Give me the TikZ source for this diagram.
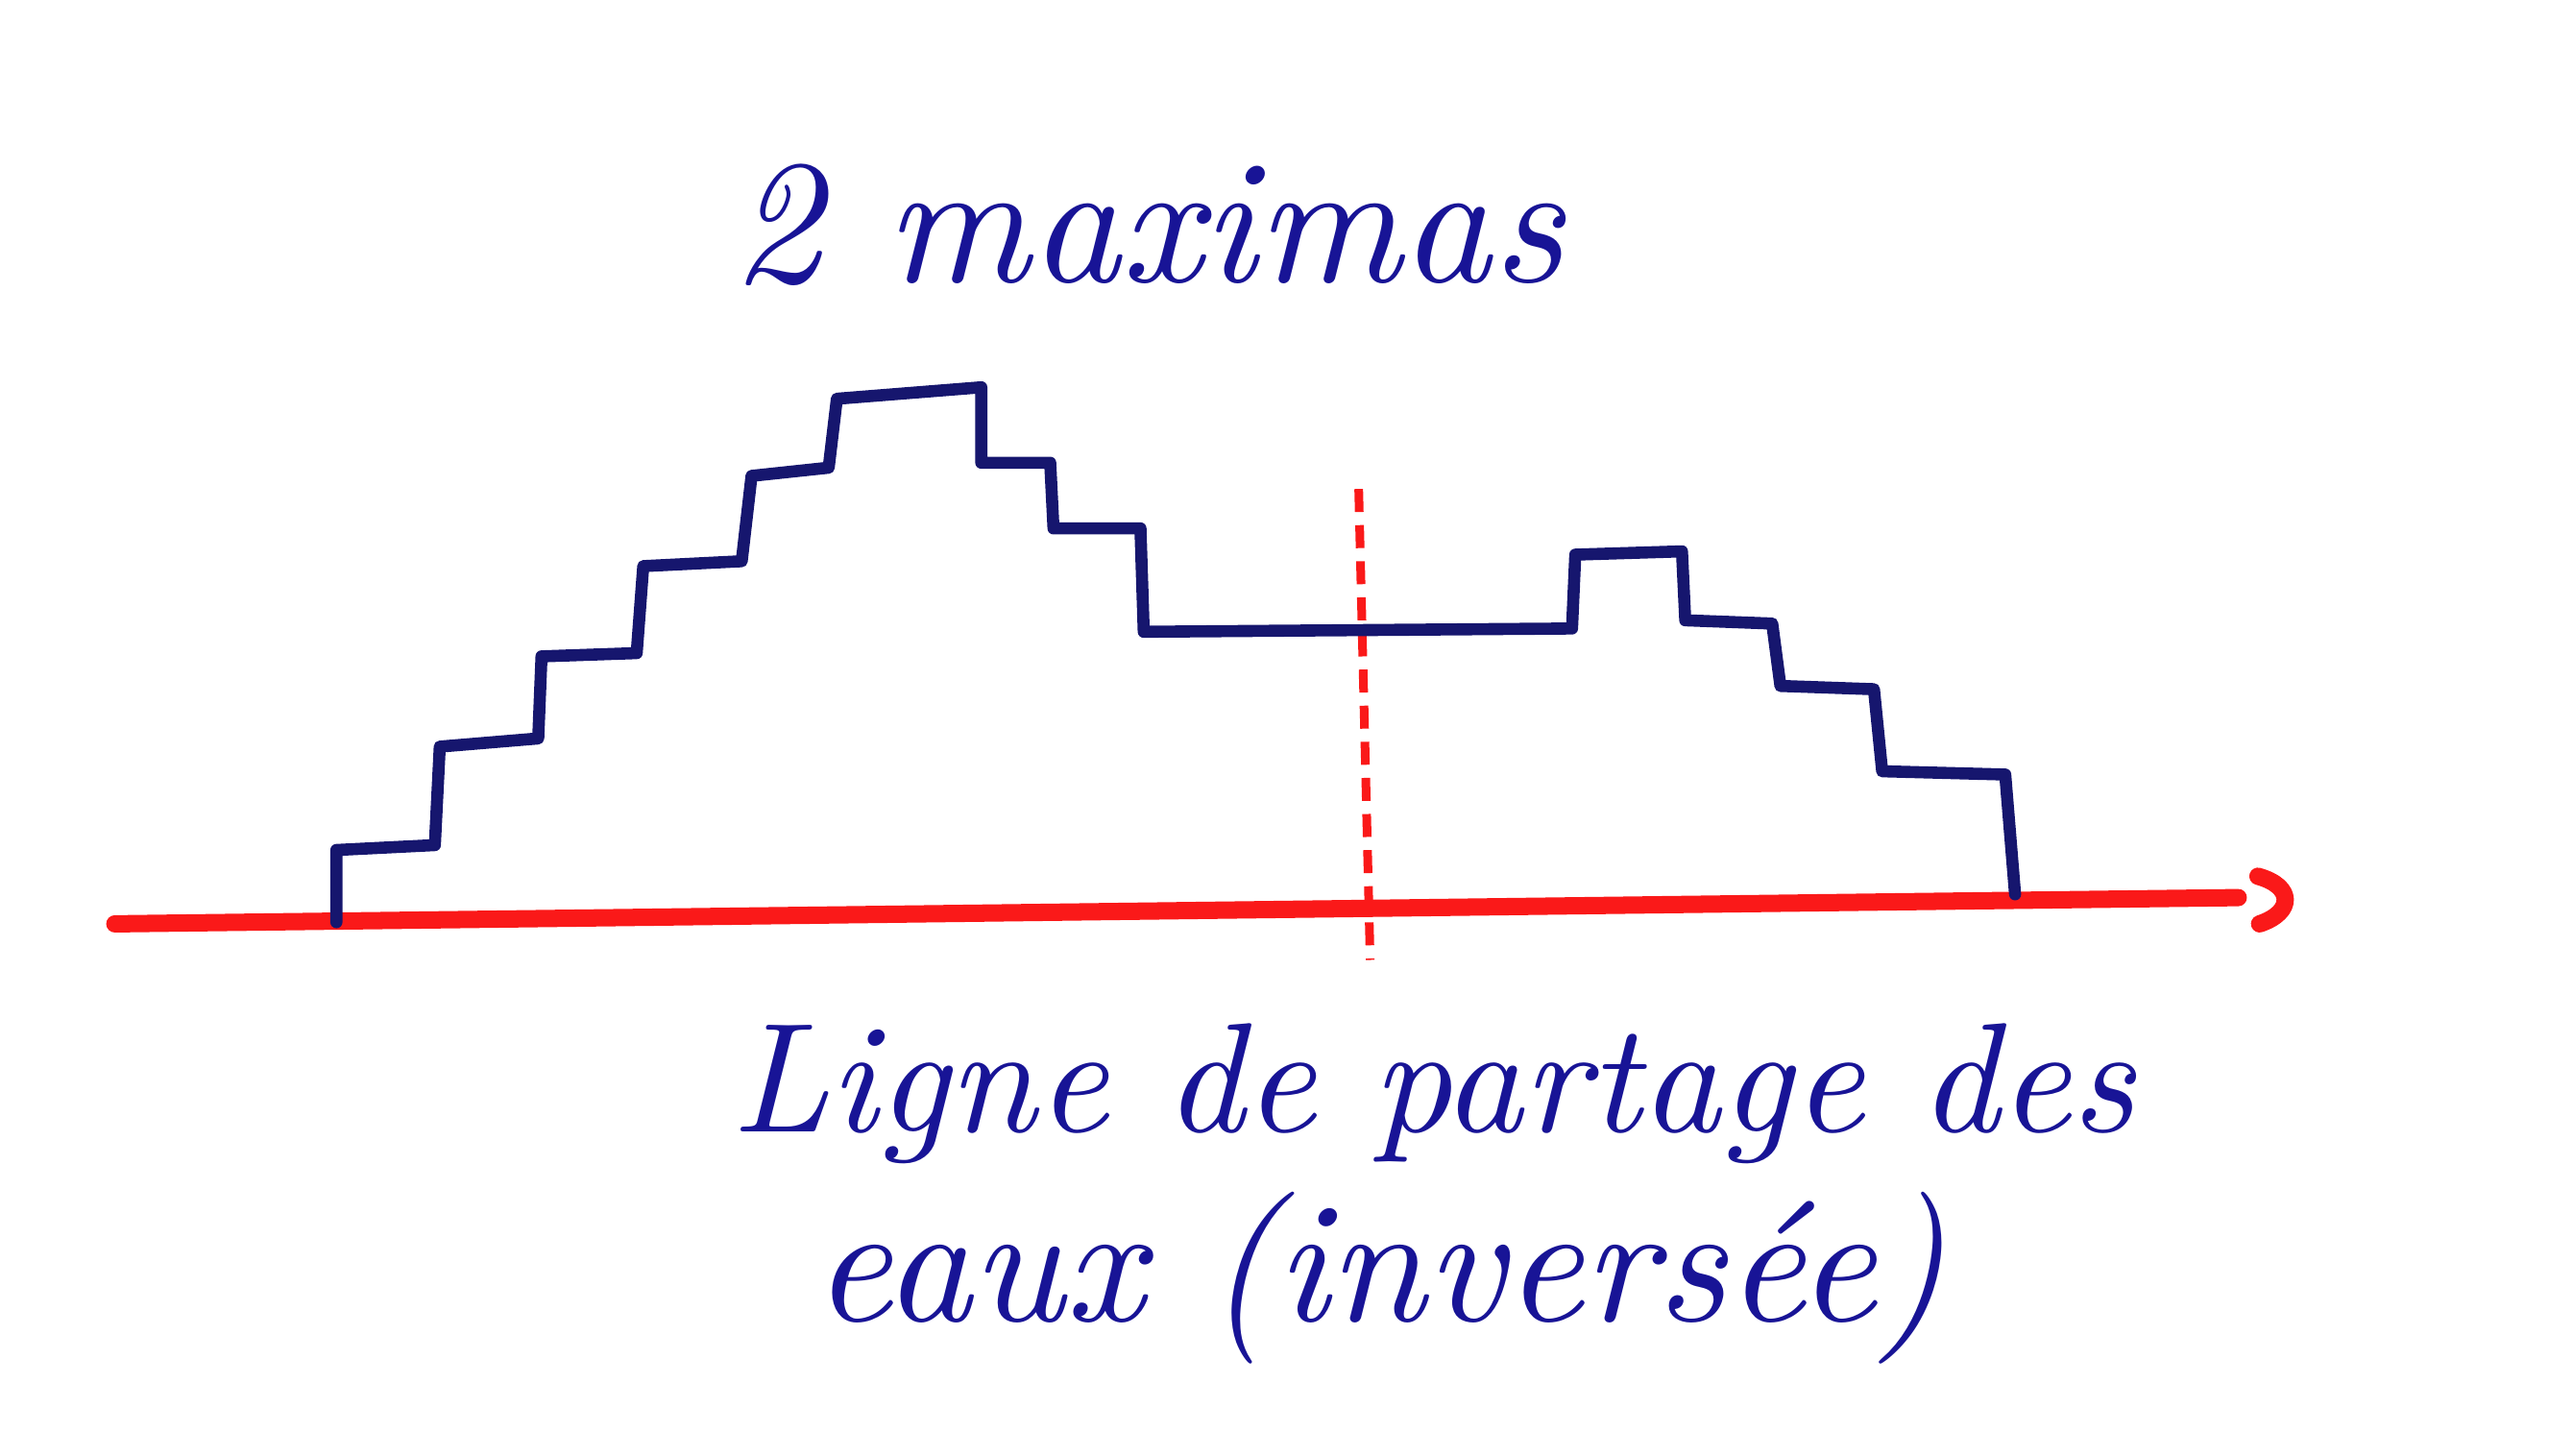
\documentclass[tikz,border=0pt]{standalone}
\usepackage{graphicx}
\definecolor{ink}{RGB}{24,20,150}
\definecolor{stair}{RGB}{22,22,110}
\definecolor{pen}{RGB}{250,25,25}
\begin{document}
\begin{tikzpicture}[x=0.01cm,y=-0.01cm,
  axisline/.style={draw=pen,line width=3pt,line cap=round,line join=round},
  stairline/.style={draw=stair,line width=2.1pt,line cap=round,line join=round},
  divide/.style={draw=pen,line width=1.5pt,dash pattern=on 0.14cm off 0.08cm},
  hand/.style={text=ink,inner sep=0pt,font=\itshape}]
\useasboundingbox (0,0) rectangle (1568,887);
% axis
\coordinate (ax0) at (70,563);
\coordinate (ax1) at (1364,547);
\draw[axisline] (ax0) -- (ax1);
\coordinate (hd) at (1376,534);
\draw[axisline] (hd) .. controls (1398,540) and (1398,556) .. (1377,563);
% dividing line
\coordinate (dv0) at (828,298);
\coordinate (dv1) at (835,585);
\draw[divide] (dv0) -- (dv1);
% staircase profile
\draw[stairline] (205,562) -- (205,518) -- (265,515) -- (268,455) -- (328,450)
  -- (330,400) -- (388,398) -- (392,345) -- (452,342) -- (458,290) -- (505,285)
  -- (510,243) -- (598,236) -- (598,282) -- (640,282) -- (642,322) -- (695,322)
  -- (697,385) -- (958,383) -- (960,338) -- (1025,336) -- (1027,378) -- (1080,380)
  -- (1085,418) -- (1142,420) -- (1147,470) -- (1222,472) -- (1228,545);
% texts
\node[hand,anchor=base west] (t1) at (445,172) {\resizebox{5.07cm}{!}{2 maximas}};
\node[hand,anchor=base west] (t2) at (445,690) {\resizebox{8.55cm}{!}{Ligne de partage des}};
\node[hand,anchor=base west] (t3) at (495,805) {\resizebox{6.9cm}{!}{eaux (invers\'ee)}};
\end{tikzpicture}
\end{document}
